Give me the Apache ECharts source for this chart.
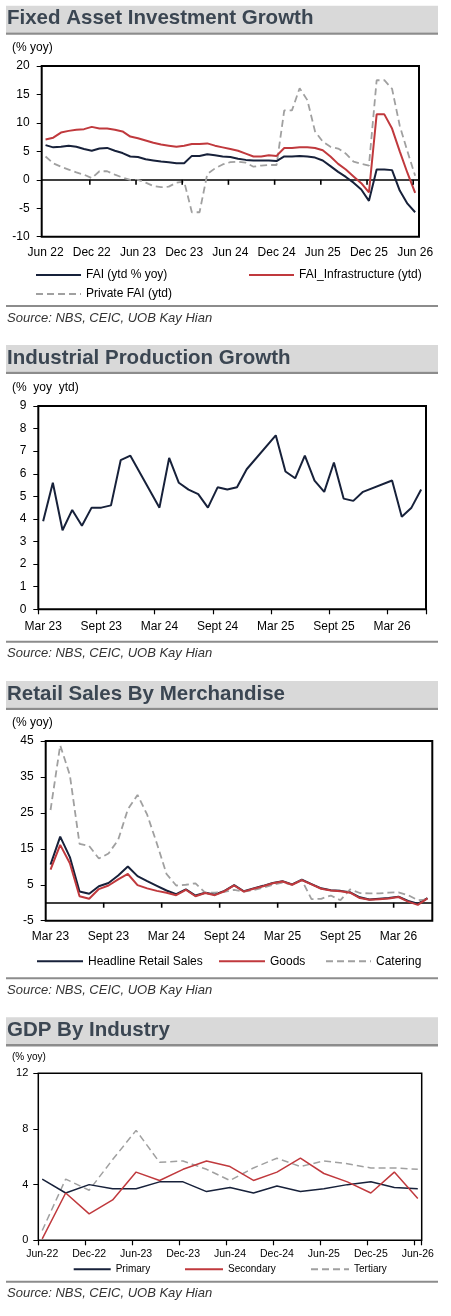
<!DOCTYPE html>
<html>
<head>
<meta charset="utf-8">
<title>China macro charts</title>
<script src="https://cdn.jsdelivr.net/npm/echarts@6.0.0/dist/echarts.min.js"></script>
<style>
    html, body { margin: 0; padding: 0; background: #fff; }
    #chart { width: 451px; height: 1316px; }
</style>
</head>
<body>
<div id="chart"></div>
<script type="text/javascript">
    // month name lists for the category axes
    var MON = ['Jan', 'Feb', 'Mar', 'Apr', 'May', 'Jun', 'Jul', 'Aug', 'Sep', 'Oct', 'Nov', 'Dec'];
    var MON_SEPT = ['Jan', 'Feb', 'Mar', 'Apr', 'May', 'Jun', 'Jul', 'Aug', 'Sept', 'Oct', 'Nov', 'Dec'];

    function months(year, month, count, sep, names) {
        var out = [];
        for (var i = 0; i < count; i++) {
            var m = (month + i) % 12;
            var y = year + Math.floor((month + i) / 12);
            out.push(names[m] + sep + String(y % 100).padStart(2, '0'));
        }
        return out;
    }

    // 1. Fixed asset investment, Jun 22 - Jun 26 monthly
    var faiMonths = months(2022, 5, 49, ' ', MON);
    var faiTotal = [6.1, 5.7, 5.8, 6.0, 5.8, 5.4, 5.1, 5.5, 5.6, 5.1, 4.7, 4.1, 4.0, 3.6, 3.4, 3.2, 3.1, 2.9, 2.9,
        4.2, 4.2, 4.5, 4.3, 4.1, 4.0, 3.7, 3.5, 3.4, 3.4, 3.4, 3.3, 4.1, 4.1, 4.2, 4.1, 3.9, 3.4, 2.4, 1.4, 0.5,
        -0.5, -1.7, -3.7, 1.8, 1.8, 1.7, -1.9, -4.2, -5.7];
    var faiInfra = [7.1, 7.4, 8.3, 8.6, 8.8, 8.9, 9.3, 9.0, 9.0, 8.8, 8.5, 7.6, 7.3, 6.9, 6.5, 6.2, 6.0, 5.8, 6.0,
        6.3, 6.3, 6.4, 6.0, 5.7, 5.4, 5.1, 4.6, 4.1, 4.1, 4.3, 4.2, 5.6, 5.6, 5.7, 5.7, 5.6, 5.2, 4.1, 2.8, 1.8,
        0.6, -0.6, -2.2, 11.5, 11.5, 9.0, 5.0, 1.2, -2.3];
    var faiPrivate = [4.1, 2.9, 2.3, 1.8, 1.3, 0.9, 0.3, 1.5, 1.5, 0.9, 0.4, 0.0, 0.0, -0.5, -1.1, -1.3, -1.2, -0.5, -0.3,
        -5.7, -5.7, 1.0, 2.0, 2.7, 3.1, 3.2, 3.0, 2.3, 2.5, 2.6, 2.6, 12.2, 12.2, 16.1, 14.0, 8.5, 6.7, 5.8, 5.5, 4.6,
        3.2, 2.8, 2.5, 17.5, 17.5, 16.0, 9.5, 5.0, 0.7];

    // 2. Industrial production, Mar 23 - Jun 26 (no Jan/Feb prints)
    var ipMonths = months(2023, 2, 40, ' ', MON_SEPT);
    var ipGrowth = [3.9, 5.6, 3.5, 4.4, 3.7, 4.5, 4.5, 4.6, 6.6, 6.8, null, null, 4.5, 6.7, 5.6, 5.3, 5.1, 4.5, 5.4, 5.3,
        5.4, 6.2, null, null, 7.7, 6.1, 5.8, 6.8, 5.7, 5.2, 6.5, 4.9, 4.8, 5.2, null, null, 5.7, 4.1, 4.5, 5.3];

    // 3. Retail sales, Mar 23 - Jun 26
    var retailMonths = months(2023, 2, 40, ' ', MON_SEPT);
    var retailHeadline = [10.6, 18.4, 12.7, 3.1, 2.5, 4.6, 5.5, 7.6, 10.1, 7.4, 6.0, 4.7, 3.4, 2.4, 3.7, 2.0, 2.8, 2.3, 3.3, 4.9,
        3.2, 4.0, 4.7, 5.5, 6.0, 5.1, 6.4, 5.2, 4.0, 3.5, 3.3, 2.9, 1.5, 0.9, 1.1, 1.3, 1.7, 0.5, -0.3, 1.3];
    var retailGoods = [9.2, 16.1, 11.0, 1.8, 1.1, 3.8, 4.8, 6.5, 8.0, 4.9, 4.0, 3.3, 2.8, 2.1, 3.6, 1.8, 2.7, 2.1, 3.2, 4.8,
        3.1, 3.9, 4.6, 5.4, 5.9, 5.0, 6.3, 5.1, 3.9, 3.4, 3.2, 2.8, 1.3, 0.8, 1.0, 1.2, 1.6, 0.3, -0.6, 1.2];
    var retailCatering = [25.8, 43.8, 35.5, 16.4, 15.8, 12.3, 13.7, 17.5, 26.0, 30.0, 24.5, 16.5, 8.0, 4.8, 5.0, 5.4, 2.8, 2.8, 3.0, 3.6,
        3.1, 3.5, 4.2, 5.0, 5.6, 5.0, 6.3, 1.0, 1.1, 2.0, 0.7, 3.7, 2.7, 2.6, 2.6, 2.8, 2.9, 2.1, 0.7, 0.9];

    // 4. GDP by industry, quarterly Jun-22 - Jun-26
    var gdpMonths = months(2022, 5, 49, '-', MON);
    var gdpPrimary = [4.4, 3.4, 4.0, 3.7, 3.7, 4.2, 4.2, 3.5, 3.8, 3.4, 3.9, 3.5, 3.7, 4.0, 4.2, 3.8, 3.7];
    var gdpSecondary = [0.1, 3.4, 1.9, 2.9, 4.9, 4.3, 5.1, 5.7, 5.3, 4.3, 4.9, 5.9, 4.8, 4.2, 3.4, 4.9, 3.0];
    var gdpTertiary = [0.7, 4.4, 3.6, 5.8, 7.9, 5.6, 5.7, 5.1, 4.3, 5.2, 5.9, 5.3, 5.7, 5.5, 5.2, 5.2, 5.1];

    // quarterly values placed on the monthly axis
    function quarterly(vals) {
        var out = [];
        vals.forEach(function (v, i) {
            out.push(v);
            if (i < vals.length - 1) out.push(null, null);
        });
        return out;
    }

    var FONT = '"Liberation Sans", Arial, sans-serif';
    var NAVY = '#17213a', RED = '#c0393d', GREY = '#a0a0a0';

    var panels = [
        {band: 5.7, title: 'Fixed Asset Investment Growth', unit: '(% yoy)', unitY: 48, rule: 306, src: 318},
        {band: 345, title: 'Industrial Production Growth', unit: '(%  yoy  ytd)', unitY: 388, rule: 641.7, src: 653.3},
        {band: 681, title: 'Retail Sales By Merchandise', unit: '(% yoy)', unitY: 722.7, rule: 978.3, src: 990.7},
        {band: 1017.3, title: 'GDP By Industry', unit: '(% yoy)', unitY: 1057, unitFont: '10px ' + FONT, rule: 1281.7, src: 1293.3}
    ];

    var graphic = [];
    panels.forEach(function (p) {
        graphic.push(
            {type: 'rect', shape: {x: 6, y: p.band, width: 432, height: 26.7}, style: {fill: '#d9d9d9'}},
            {type: 'rect', shape: {x: 6, y: p.band + 26.7, width: 432, height: 2.4}, style: {fill: '#8c8c8c'}},
            {type: 'text', x: 7, y: p.band + 13, style: {text: p.title, font: 'bold 20.5px ' + FONT, fill: '#3b4652', verticalAlign: 'middle'}},
            {type: 'text', x: 12, y: p.unitY, style: {text: p.unit, font: p.unitFont || ('12px ' + FONT), fill: '#000', verticalAlign: 'middle'}},
            {type: 'rect', shape: {x: 6, y: p.rule - 1, width: 432, height: 2}, style: {fill: '#8c8c8c'}},
            {type: 'text', x: 7, y: p.src, style: {text: 'Source: NBS, CEIC, UOB Kay Hian', font: 'italic 13px ' + FONT, fill: '#333', verticalAlign: 'middle'}}
        );
    });

    function leg(name, x, yc, w, size) {
        return {
            data: [name], left: x, top: yc - 7, itemWidth: w, itemHeight: 14, padding: 0,
            selectedMode: false, itemStyle: {opacity: 0},
            textStyle: {fontFamily: FONT, fontSize: size || 12, color: '#000'}
        };
    }

    function yAxis(grid, min, max, step, margin, size) {
        return {
            type: 'value', gridIndex: grid, min: min, max: max, interval: step,
            axisLine: {show: false},
            axisTick: {show: true, length: 5, lineStyle: {color: '#000', width: 1}},
            axisLabel: {margin: margin, fontFamily: FONT, fontSize: size || 12, color: '#000'},
            splitLine: {show: false}
        };
    }

    // bottom axis carrying the labels
    function xLabels(grid, cats, margin, ticks, size) {
        return {
            type: 'category', gridIndex: grid, data: cats, position: 'bottom', boundaryGap: true,
            axisLine: {show: false, onZero: false},
            axisTick: {show: ticks, interval: 5, length: 5, lineStyle: {color: '#000', width: 1.2}},
            axisLabel: {interval: 5, margin: margin, fontFamily: FONT, fontSize: size || 12, color: '#000'},
            splitLine: {show: false}
        };
    }

    // zero line (second category axis sitting on y = 0)
    function xZero(grid, cats) {
        return {
            type: 'category', gridIndex: grid, data: cats, position: 'bottom', boundaryGap: true,
            axisLine: {show: true, onZero: true, lineStyle: {color: '#000', width: 1.5}},
            axisTick: {show: false},
            axisLabel: {show: false},
            splitLine: {show: false}
        };
    }

    function line(name, x, y, data, color, width, dashed) {
        return {
            name: name, type: 'line', xAxisIndex: x, yAxisIndex: y, data: data,
            symbol: 'none', connectNulls: true, silent: true,
            lineStyle: {color: color, width: width, type: dashed ? [7, 4] : 'solid'},
            itemStyle: {color: color}
        };
    }

    var chart = echarts.init(document.getElementById('chart'));
    chart.setOption({
        animation: false,
        backgroundColor: '#fff',
        graphic: graphic,
        grid: [
            {left: 41.7, top: 66, width: 377.3, height: 170.7, show: true, borderColor: '#000', borderWidth: 2},
            {left: 38.3, top: 406, width: 387.7, height: 203.3, show: true, borderColor: '#000', borderWidth: 2},
            {left: 45.7, top: 741, width: 386.6, height: 179.7, show: true, borderColor: '#000', borderWidth: 2},
            {left: 38.3, top: 1073.3, width: 383.4, height: 167, show: true, borderColor: '#000', borderWidth: 1.5}
        ],
        xAxis: [
            xLabels(0, faiMonths, 10, false),
            xZero(0, faiMonths),
            xLabels(1, ipMonths, 11, true),
            xLabels(2, retailMonths, 10, false),
            xZero(2, retailMonths),
            xLabels(3, gdpMonths, 8, true, 10.5)
        ],
        yAxis: [
            yAxis(0, -10, 20, 5, 12),
            yAxis(1, 0, 9, 1, 12),
            yAxis(2, -5, 45, 10, 12),
            yAxis(3, 0, 12, 4, 10, 11)
        ],
        legend: [
            leg('FAI (ytd % yoy)', 35, 276, 45),
            leg('FAI_Infrastructure (ytd)', 248, 276, 45),
            leg('Private FAI (ytd)', 35, 295, 45),
            leg('Headline Retail Sales', 36, 962.3, 46),
            leg('Goods', 218, 962.3, 46),
            leg('Catering', 325, 962.3, 45),
            leg('Primary', 72.7, 1270.7, 37, 10),
            leg('Secondary', 184, 1270.7, 38, 10),
            leg('Tertiary', 310, 1270.7, 38, 10)
        ],
        series: [
            line('Private FAI (ytd)', 0, 0, faiPrivate, GREY, 1.8, true),
            line('FAI (ytd % yoy)', 0, 0, faiTotal, NAVY, 2),
            line('FAI_Infrastructure (ytd)', 0, 0, faiInfra, RED, 2),

            line('Industrial production', 2, 1, ipGrowth, NAVY, 2),

            line('Headline Retail Sales', 3, 2, retailHeadline, NAVY, 2),
            line('Catering', 3, 2, retailCatering, GREY, 1.8, true),
            line('Goods', 3, 2, retailGoods, RED, 2),

            line('Tertiary', 5, 3, quarterly(gdpTertiary), GREY, 1.5, true),
            line('Primary', 5, 3, quarterly(gdpPrimary), NAVY, 1.5),
            line('Secondary', 5, 3, quarterly(gdpSecondary), RED, 1.5)
        ]
    });

    // tick marks under the zero line every 6 months, placed with the chart's own scales
    // shift: fraction of a month to the right of the category boundary
    function zeroTicks(xIndex, yIndex, count, shift) {
        var out = [];
        var y0 = chart.convertToPixel({yAxisIndex: yIndex}, 0);
        var band = chart.convertToPixel({xAxisIndex: xIndex}, 1) - chart.convertToPixel({xAxisIndex: xIndex}, 0);
        for (var i = 6; i < count; i += 6) {
            var x = chart.convertToPixel({xAxisIndex: xIndex}, i) - band / 2 + band * shift;
            out.push({type: 'line', z: 10, shape: {x1: x, y1: y0, x2: x, y2: y0 + 5}, style: {stroke: '#000', lineWidth: 1.6}});
        }
        return out;
    }

    chart.setOption({
        graphic: graphic.concat(zeroTicks(0, 0, faiMonths.length, 0.25), zeroTicks(3, 2, retailMonths.length, 0))
    });
</script>
</body>
</html>
